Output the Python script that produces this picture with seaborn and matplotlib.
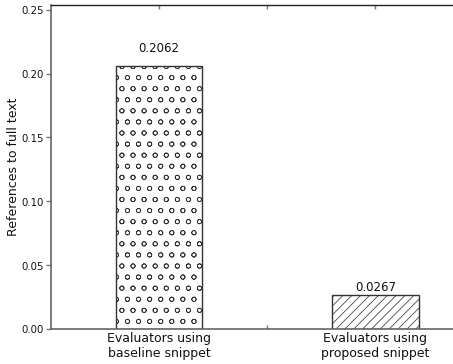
import matplotlib
matplotlib.use("Agg")
import matplotlib.pyplot as plt
import seaborn as sns
import pandas as pd

categories = ["Evaluators using\nbaseline snippet", "Evaluators using\nproposed snippet"]
values = [0.2062, 0.0267]
value_labels = ["0.2062", "0.0267"]
hatches = ["oo", "/////"]
yticks = [0.00, 0.05, 0.10, 0.15, 0.20, 0.25]

DPI = 133
k = 100 / DPI  # keep pixel sizes as if drawn at 100 dpi

sns.set_style("white")
plt.rcParams['font.family'] = ['DejaVu Sans']
plt.rcParams['hatch.linewidth'] = 0.4
plt.rcParams['hatch.color'] = '#999999'

df = pd.DataFrame({"cat": categories, "val": values})

fig = plt.figure(figsize=(453.4 / DPI, 364.4 / DPI), dpi=DPI)
ax = fig.add_axes([51/453, 35/364, (483-51)/453, (329-5)/364])
sns.barplot(data=df, x="cat", y="val", ax=ax, width=0.4, color="white",
            edgecolor="#333333", linewidth=1.0 * k)
for patch, h in zip(ax.patches, hatches):
    patch.set_hatch(h)
    patch.set_facecolor("white")

for i, (v, lab) in enumerate(zip(values, value_labels)):
    off = 0.009 if i == 0 else 0.0008
    ax.text(i, v + off, lab, ha="center", va="bottom", fontsize=8.5 * k, color="#111111")

ax.set_xlim(-0.5, 1.5)
ax.set_ylim(0, 0.254)
ax.set_xticks([0, 0.5, 1])
ax.set_xticklabels([categories[0], "", categories[1]], fontsize=9 * k, color="#111111")
ax.set_yticks(yticks)
ax.set_yticklabels([f"{t:.2f}" for t in yticks], fontsize=7.3 * k, color="#111111")
ax.set_xlabel("")
ax.set_ylabel("References to full text", fontsize=9 * k, color="#111111")
ax.yaxis.set_label_coords(-0.071, 0.5)

ax.tick_params(axis="x", direction="in", length=3 * k, width=1.0 * k, top=True, bottom=True,
               color="#777777", pad=2 * k)
ax.tick_params(axis="y", direction="out", length=3.5 * k, width=1.0 * k, left=True,
               color="#777777", pad=1.5 * k)

for s in ["left", "bottom"]:
    ax.spines[s].set_color("#666666")
    ax.spines[s].set_linewidth(1.2 * k)
ax.spines["top"].set_color("#222222")
ax.spines["top"].set_linewidth(1.0 * k)
ax.spines["right"].set_visible(False)

fig.savefig("out.png", dpi=DPI)
